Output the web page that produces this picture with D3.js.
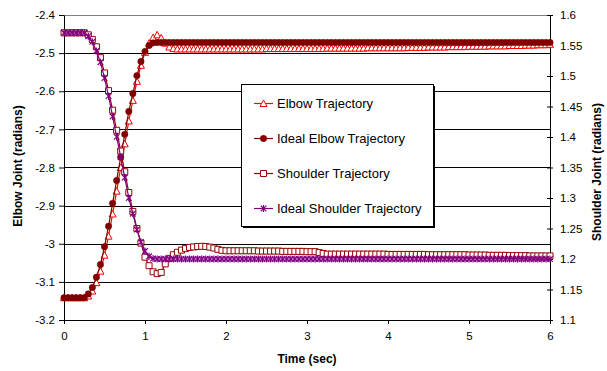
<!DOCTYPE html>
<html>
<head>
<meta charset="utf-8">
<script src="https://cdn.jsdelivr.net/npm/d3@7"></script>
<style>
  body { margin: 0; background: #fff; }
  svg { font-family: Arial, "Liberation Sans", sans-serif; }
</style>
</head>
<body>
<div id="wrapper"></div>
<script>
// samples every 0.05 s from 0 to 6 s (121 points)
var dt = 0.05;

// elbow joint, left axis (radians)
var elbowActual = [
  -3.1416,-3.1416,-3.1416,-3.1416,-3.1416,-3.1416,-3.137,-3.124,-3.102,-3.072,-3.030,-2.980,-2.922,-2.862,-2.800,-2.738,-2.678,-2.624,-2.574,-2.532,
  -2.498,-2.474,-2.459,-2.452,-2.460,-2.474,-2.484,-2.488,-2.489,-2.489,-2.489,-2.489,-2.489,-2.489,-2.489,-2.489,-2.489,-2.489,-2.489,-2.489,
  -2.489,-2.489,-2.489,-2.489,-2.489,-2.489,-2.489,-2.489,-2.489,-2.489,-2.488,-2.488,-2.488,-2.488,-2.488,-2.488,-2.488,-2.488,-2.488,-2.488,
  -2.488,-2.488,-2.488,-2.488,-2.488,-2.487,-2.487,-2.487,-2.487,-2.487,-2.487,-2.487,-2.487,-2.487,-2.487,-2.486,-2.486,-2.486,-2.486,-2.486,
  -2.486,-2.486,-2.486,-2.486,-2.486,-2.485,-2.485,-2.485,-2.485,-2.485,-2.484,-2.484,-2.484,-2.484,-2.484,-2.483,-2.483,-2.483,-2.483,-2.483,
  -2.482,-2.482,-2.482,-2.482,-2.482,-2.481,-2.481,-2.481,-2.481,-2.481,-2.480,-2.480,-2.480,-2.480,-2.479,-2.479,-2.479,-2.478,-2.478,-2.478,
  -2.477
];
var elbowIdeal = [
  -3.1416,-3.1416,-3.1416,-3.1416,-3.1416,-3.1416,-3.1316,-3.1148,-3.088,-3.0546,-3.0077,-2.954,-2.894,-2.834,-2.773,-2.713,-2.653,-2.606,-2.559,-2.522,
  -2.4954,-2.480,-2.473,-2.472,-2.472,-2.472,-2.472,-2.472,-2.472,-2.472,-2.472,-2.472,-2.472,-2.472,-2.472,-2.472,-2.472,-2.472,-2.472,-2.472,
  -2.472,-2.472,-2.472,-2.472,-2.472,-2.472,-2.472,-2.472,-2.472,-2.472,-2.472,-2.472,-2.472,-2.472,-2.472,-2.472,-2.472,-2.472,-2.472,-2.472,
  -2.472,-2.472,-2.472,-2.472,-2.472,-2.472,-2.472,-2.472,-2.472,-2.472,-2.472,-2.472,-2.472,-2.472,-2.472,-2.472,-2.472,-2.472,-2.472,-2.472,
  -2.472,-2.472,-2.472,-2.472,-2.472,-2.472,-2.472,-2.472,-2.472,-2.472,-2.472,-2.472,-2.472,-2.472,-2.472,-2.472,-2.472,-2.472,-2.472,-2.472,
  -2.472,-2.472,-2.472,-2.472,-2.472,-2.472,-2.472,-2.472,-2.472,-2.472,-2.472,-2.472,-2.472,-2.472,-2.472,-2.472,-2.472,-2.472,-2.472,-2.472,
  -2.472
];

// shoulder joint, right axis (radians)
var shoulderActual = [
  1.5708,1.5708,1.5708,1.5708,1.5708,1.5708,1.5675,1.560,1.548,1.530,1.505,1.476,1.444,1.411,1.377,1.343,1.309,1.278,1.250,1.226,
  1.203,1.189,1.179,1.176,1.178,1.192,1.201,1.207,1.211,1.2145,1.217,1.219,1.2198,1.2205,1.2208,1.2205,1.2195,1.218,1.2158,1.2142,
  1.2135,1.2135,1.2135,1.2135,1.2135,1.2135,1.2135,1.2135,1.213,1.213,1.213,1.213,1.213,1.213,1.2125,1.2125,1.2125,1.2125,1.2125,1.2125,
  1.212,1.212,1.212,1.2105,1.209,1.208,1.208,1.208,1.208,1.208,1.208,1.208,1.208,1.208,1.208,1.208,1.208,1.208,1.208,1.208,
  1.2075,1.2075,1.2075,1.2075,1.2075,1.2075,1.2075,1.2075,1.2075,1.2075,1.207,1.207,1.207,1.207,1.207,1.207,1.207,1.207,1.207,1.207,
  1.2065,1.2065,1.2065,1.2065,1.2065,1.206,1.206,1.206,1.206,1.206,1.2055,1.2055,1.2055,1.2055,1.2055,1.205,1.205,1.205,1.205,1.205,
  1.205
];
var shoulderIdeal = [
  1.5708,1.5708,1.5708,1.5708,1.5708,1.5708,1.5652,1.556,1.5411,1.5226,1.4966,1.467,1.4336,1.4002,1.3669,1.3335,1.3001,1.2742,1.2482,1.2278,
  1.213,1.2045,1.2007,1.2,1.2,1.2,1.2,1.2,1.2,1.2,1.2,1.2,1.2,1.2,1.2,1.2,1.2,1.2,1.2,1.2,
  1.2,1.2,1.2,1.2,1.2,1.2,1.2,1.2,1.2,1.2,1.2,1.2,1.2,1.2,1.2,1.2,1.2,1.2,1.2,1.2,
  1.2,1.2,1.2,1.2,1.2,1.2,1.2,1.2,1.2,1.2,1.2,1.2,1.2,1.2,1.2,1.2,1.2,1.2,1.2,1.2,
  1.2,1.2,1.2,1.2,1.2,1.2,1.2,1.2,1.2,1.2,1.2,1.2,1.2,1.2,1.2,1.2,1.2,1.2,1.2,1.2,
  1.2,1.2,1.2,1.2,1.2,1.2,1.2,1.2,1.2,1.2,1.2,1.2,1.2,1.2,1.2,1.2,1.2,1.2,1.2,1.2,
  1.2
];

// tick labels
var xTicks = [0, 1, 2, 3, 4, 5, 6];
var leftTicks = [-3.2, -3.1, -3, -2.9, -2.8, -2.7, -2.6, -2.5, -2.4];
var rightTicks = [1.1, 1.15, 1.2, 1.25, 1.3, 1.35, 1.4, 1.45, 1.5, 1.55, 1.6];

var seriesNames = ["Elbow Trajectory", "Ideal Elbow Trajectory", "Shoulder Trajectory", "Ideal Shoulder Trajectory"];

/* canvas */
var width = 607, height = 371;
var plotL = 64, plotR = 550, plotT = 15, plotB = 320;

var svg = d3.select("#wrapper").append("svg")
    .attr("width", width)
    .attr("height", height);

var x = d3.scaleLinear().domain([0, 6]).range([plotL, plotR]);
var yL = d3.scaleLinear().domain([-3.2, -2.4]).range([plotB, plotT]);
var yR = d3.scaleLinear().domain([1.1, 1.6]).range([plotB, plotT]);

var fmt = function(d) { return String(+d.toFixed(2)); };

// plot border (top shows gray) + gridlines
svg.append("rect")
    .attr("x", plotL + 0.5).attr("y", plotT + 0.5)
    .attr("width", plotR - plotL).attr("height", plotB - plotT)
    .attr("fill", "none").attr("stroke", "#808080").attr("stroke-width", 1);

svg.append("g").selectAll("line")
    .data(leftTicks.slice(1, -1))
    .enter().append("line")
    .attr("x1", plotL).attr("x2", plotR)
    .attr("y1", function(d) { return Math.round(yL(d)) + 0.5; })
    .attr("y2", function(d) { return Math.round(yL(d)) + 0.5; })
    .attr("stroke", "#000").attr("stroke-width", 1);

// axes
var gx = svg.append("g")
    .attr("transform", "translate(0," + plotB + ")")
    .call(d3.axisBottom(x).tickValues(xTicks).tickFormat(fmt).tickSize(4).tickSizeOuter(0).tickPadding(8));

var gl = svg.append("g")
    .attr("transform", "translate(" + plotL + ",0)")
    .call(d3.axisLeft(yL).tickValues(leftTicks).tickFormat(fmt).tickSize(5).tickSizeOuter(0).tickPadding(4));

var gr = svg.append("g")
    .attr("transform", "translate(" + plotR + ",0)")
    .call(d3.axisRight(yR).tickValues(rightTicks).tickFormat(fmt).tickSize(3).tickSizeOuter(0).tickPadding(7));
gr.selectAll(".tick line").attr("x1", -3);

[gx, gl, gr].forEach(function(g) {
    g.select(".domain").attr("stroke", "#000");
    g.selectAll(".tick line").attr("stroke", "#000");
    g.selectAll(".tick text").attr("fill", "#000").style("font-size", "11.5px");
});

// axis titles
svg.append("text")
    .attr("transform", "translate(22,166) rotate(-90)")
    .attr("text-anchor", "middle")
    .style("font-size", "12px").style("font-weight", "bold")
    .text("Elbow Joint (radians)");

svg.append("text")
    .attr("transform", "translate(601,172) rotate(-90)")
    .attr("text-anchor", "middle")
    .style("font-size", "12px").style("font-weight", "bold")
    .text("Shoulder Joint (radians)");

svg.append("text")
    .attr("x", (plotL + plotR) / 2).attr("y", 363)
    .attr("text-anchor", "middle")
    .style("font-size", "12px").style("font-weight", "bold")
    .text("Time (sec)");

/* series */
function toPoints(vals, yScale) {
    return vals.map(function(v, i) { return { t: i * dt, v: v, y: yScale }; });
}

var series = [
    { name: seriesNames[0], pts: toPoints(elbowActual, yL), color: "#ff0000", marker: "triangle" },
    { name: seriesNames[1], pts: toPoints(elbowIdeal, yL), color: "#800000", marker: "circle" },
    { name: seriesNames[2], pts: toPoints(shoulderActual, yR), color: "#990000", marker: "square" },
    { name: seriesNames[3], pts: toPoints(shoulderIdeal, yR), color: "#800080", marker: "star" }
];

function markerPath(type) {
    if (type == "triangle") return "M0,-3.5L3.5,3L-3.5,3Z";
    if (type == "square") return "M-3,-3H3V3H-3Z";
    if (type == "star") return "M-2.8,-2.8L2.8,2.8M-2.8,2.8L2.8,-2.8M0,-3.5V3.5";
    return null;
}

function drawMarker(sel, s) {
    if (s.marker == "circle") {
        sel.append("circle").attr("r", 3.2).attr("fill", s.color).attr("stroke", s.color).attr("stroke-width", 0.5);
    } else if (s.marker == "star") {
        sel.append("path").attr("d", markerPath("star")).attr("fill", "none").attr("stroke", s.color).attr("stroke-width", 1.2);
    } else {
        sel.append("path").attr("d", markerPath(s.marker)).attr("fill", "#fff").attr("stroke", s.color).attr("stroke-width", 1);
    }
}

var plot = svg.append("g");

series.forEach(function(s) {
    var line = d3.line()
        .x(function(d) { return x(d.t); })
        .y(function(d) { return d.y(d.v); });

    plot.append("path")
        .datum(s.pts)
        .attr("d", line)
        .attr("fill", "none")
        .attr("stroke", s.color)
        .attr("stroke-width", 1.2);

    plot.selectAll(null)
        .data(s.pts)
        .enter().append("g")
        .attr("transform", function(d) { return "translate(" + x(d.t) + "," + d.y(d.v) + ")"; })
        .each(function() { drawMarker(d3.select(this), s); });
});

/* legend */
var lx = 241, ly = 84, lw = 192, lh = 142;
var legend = svg.append("g");
legend.append("rect")
    .attr("x", lx + 2).attr("y", ly + 2).attr("width", lw).attr("height", lh)
    .attr("fill", "#000");
legend.append("rect")
    .attr("x", lx + 0.5).attr("y", ly + 0.5).attr("width", lw).attr("height", lh)
    .attr("fill", "#fff").attr("stroke", "#000").attr("stroke-width", 1);

series.forEach(function(s, i) {
    var cy = 103.5 + i * 35;
    var item = legend.append("g");
    item.append("line")
        .attr("x1", 254).attr("x2", 273)
        .attr("y1", cy).attr("y2", cy)
        .attr("stroke", s.color).attr("stroke-width", 1.2);
    drawMarker(item.append("g").attr("transform", "translate(263.5," + cy + ")"), s);
    item.append("text")
        .attr("x", 277).attr("y", cy)
        .attr("dy", "0.35em")
        .style("font-size", "13px")
        .text(s.name);
});
</script>
</body>
</html>
